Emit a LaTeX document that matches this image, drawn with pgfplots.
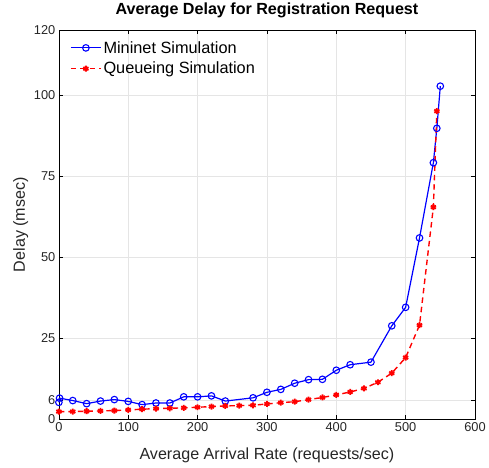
\documentclass[border=0pt]{standalone}
\usepackage{pgfplots}
\pgfplotsset{compat=1.18}
\usepackage{fontspec}
\setmainfont{Liberation Sans}
\begin{document}
\begin{tikzpicture}[x=1bp,y=1bp]
\begin{axis}[
  name=ax,
  scale only axis,
  width=417bp, height=390bp,
  xmin=0, xmax=600, ymin=0, ymax=120,
  xtick={0,100,200,300,400,500,600},
  ytick={0,6,25,50,75,100,120},
  tick align=inside,
  major tick length=4bp,
  tick style={black, line width=0.5pt},
  axis line style={black, line width=0.6pt},
  grid=major,
  grid style={black!10, line width=0.4pt},
  /pgf/number format/assume math mode=true,
  ticklabel style={font=\fontsize{12.9}{14}\selectfont, text=black!85},
  xlabel={Average Arrival Rate (requests/sec)},
  ylabel={Delay (msec)},
  xlabel style={at={(axis description cs:0.5,-0.093)}, anchor=center},
  ylabel style={at={(axis description cs:-0.092,0.5)}, anchor=center, rotate=0},
  label style={font=\fontsize{16.2}{18}\selectfont, text=black!85},
  title={\textbf{Average Delay for Registration Request}},
  title style={font=\fontsize{16.2}{18}\selectfont, at={(axis description cs:0.5,1.034)}, anchor=center},
  legend style={draw=none, fill=none, at={(0.022,0.982)}, anchor=north west, font=\fontsize{16.4}{18}\selectfont, row sep=3.5bp, inner sep=2bp},
  legend cell align=left,
  legend image code/.code={\draw[mark repeat=2,mark phase=2] plot coordinates {(0bp,0bp) (15bp,0bp) (30bp,0bp)};},
  clip=false,
]
\addplot[blue, line width=1.2pt, mark=o, mark size=3.3bp, mark options={solid, line width=1.1pt}] coordinates {
(0,5.2) (1,6.5) (20,5.75) (40,4.8) (60,5.6) (80,6.05) (100,5.5) (120,4.5) (140,5.0) (160,5.0)
(180,6.9) (200,6.9) (220,7.2) (240,5.6) (280,6.6) (300,8.3) (320,9.2) (340,11.1) (360,12.2)
(380,12.3) (400,15.1) (420,16.8) (450,17.6) (480,28.8) (500,34.5) (520,55.9) (540,79.1) (545,89.7) (550,102.7)
};
\addlegendentry{Mininet Simulation}
\addplot[red, line width=1.4pt, dashed, dash pattern=on 5.5bp off 4bp, mark=asterisk, mark size=3bp, mark options={solid, line width=1.8pt}] coordinates {
(0,2.36) (20,2.36) (40,2.46) (60,2.56) (80,2.67) (100,2.87) (120,3.08) (140,3.28) (160,3.38) (180,3.5)
(200,3.69) (220,3.9) (240,4.1) (260,4.2) (280,4.3) (300,4.7) (320,5.1) (340,5.4) (360,6.05) (380,6.7)
(400,7.5) (420,8.4) (440,9.5) (460,11.4) (480,14.2) (500,19.0) (520,29.0) (540,65.4) (545,95.0)
};
\addlegendentry{Queueing Simulation}
\end{axis}
\path ([xshift=-59bp,yshift=-48bp]ax.south west) rectangle ([xshift=13bp,yshift=26bp]ax.north east);
\end{tikzpicture}
\end{document}
